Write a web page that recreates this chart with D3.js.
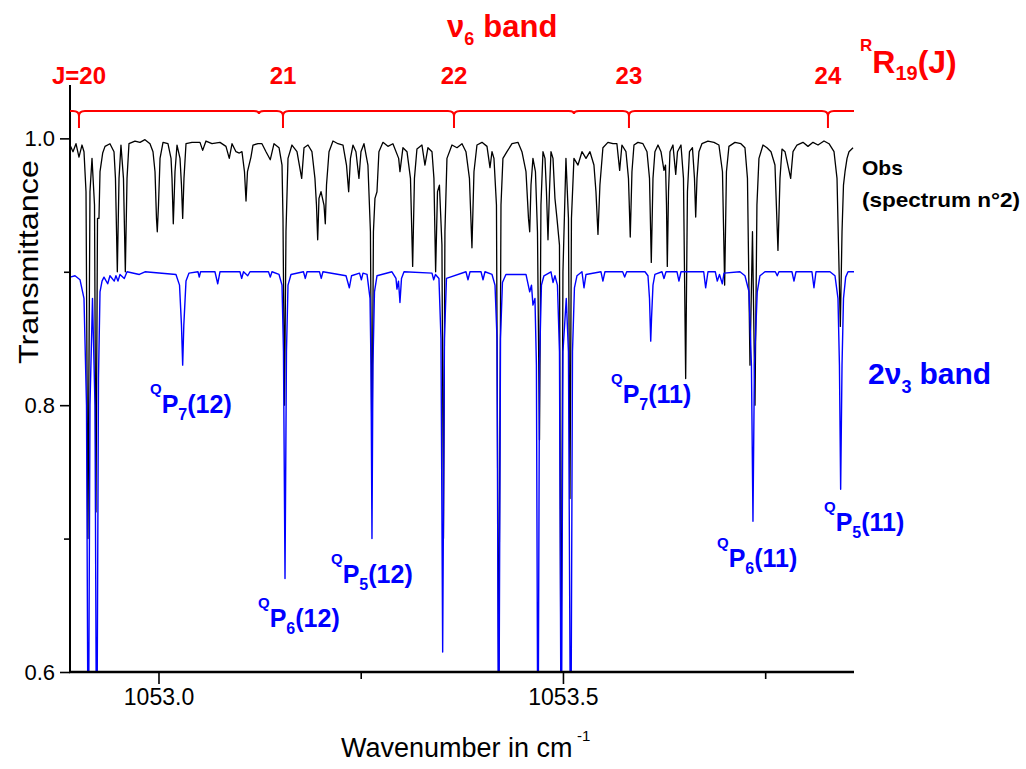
<!DOCTYPE html>
<html><head><meta charset="utf-8">
<script src="https://cdn.jsdelivr.net/npm/d3@7"></script>
<style>
body{margin:0;background:#fff}
svg{display:block}
text{font-family:"Liberation Sans",Arial,sans-serif}
</style>
</head><body>
<svg id="chart" width="1026" height="769"></svg>
<script>
// ---------- data ----------
// observed spectrum (black): [wavenumber cm-1, transmittance]
const obsSpectrum = [[1052.8906,0.995],[1052.8943,0.99],[1052.8980,0.996],[1052.9017,0.986],[1052.9054,0.995],[1052.9079,0.99],[1052.9104,0.96],[1052.9128,0.70],[1052.9153,0.96],[1052.9178,0.985],[1052.9209,0.95],[1052.9227,0.72],[1052.9246,0.94],[1052.9264,0.94],[1052.9277,0.975],[1052.9310,0.989],[1052.9339,0.994],[1052.9400,0.996],[1052.9450,0.99],[1052.9468,0.97],[1052.9491,0.90],[1052.9512,0.97],[1052.9536,0.995],[1052.9567,0.97],[1052.9590,0.90],[1052.9611,0.97],[1052.9635,0.996],[1052.9709,0.998],[1052.9771,0.997],[1052.9833,0.999],[1052.9895,0.996],[1052.9932,0.99],[1052.9957,0.975],[1052.9975,0.94],[1052.9985,0.93],[1053.0000,0.95],[1053.0019,0.985],[1053.0056,0.997],[1053.0117,0.996],[1053.0155,0.985],[1053.0167,0.97],[1053.0183,0.936],[1053.0204,0.975],[1053.0229,0.995],[1053.0266,0.985],[1053.0284,0.965],[1053.0299,0.94],[1053.0315,0.97],[1053.0340,0.996],[1053.0414,0.997],[1053.0513,0.997],[1053.0546,0.991],[1053.0587,0.998],[1053.0661,0.996],[1053.0760,0.997],[1053.0834,0.994],[1053.0875,0.985],[1053.0909,0.996],[1053.0958,0.99],[1053.0999,0.989],[1053.1032,0.99],[1053.1063,0.975],[1053.1082,0.953],[1053.1100,0.975],[1053.1143,0.986],[1053.1168,0.995],[1053.1230,0.996],[1053.1279,0.996],[1053.1329,0.99],[1053.1382,0.984],[1053.1428,0.996],[1053.1490,0.993],[1053.1527,0.98],[1053.1539,0.94],[1053.1558,0.80],[1053.1576,0.93],[1053.1601,0.985],[1053.1650,0.995],[1053.1712,0.99],[1053.1770,0.97],[1053.1799,0.993],[1053.1848,0.995],[1053.1897,0.99],[1053.1934,0.97],[1053.1953,0.95],[1053.1968,0.924],[1053.1984,0.955],[1053.2009,0.96],[1053.2046,0.95],[1053.2062,0.936],[1053.2077,0.965],[1053.2108,0.99],[1053.2157,0.998],[1053.2219,0.996],[1053.2281,0.995],[1053.2324,0.98],[1053.2351,0.96],[1053.2373,0.985],[1053.2404,0.995],[1053.2441,0.99],[1053.2478,0.97],[1053.2503,0.99],[1053.2540,0.996],[1053.2589,0.98],[1053.2620,0.93],[1053.2639,0.755],[1053.2657,0.93],[1053.2676,0.955],[1053.2701,0.96],[1053.2725,0.99],[1053.2775,0.997],[1053.2836,0.994],[1053.2898,0.996],[1053.2969,0.985],[1053.2985,0.975],[1053.3022,0.993],[1053.3072,0.99],[1053.3115,0.97],[1053.3142,0.904],[1053.3164,0.97],[1053.3195,0.992],[1053.3257,0.995],[1053.3294,0.98],[1053.3331,0.993],[1053.3381,0.99],[1053.3405,0.97],[1053.3426,0.90],[1053.3449,0.96],[1053.3473,0.965],[1053.3504,0.92],[1053.3523,0.70],[1053.3541,0.93],[1053.3566,0.985],[1053.3628,0.995],[1053.3690,0.993],[1053.3752,0.996],[1053.3801,0.99],[1053.3844,0.97],[1053.3875,0.918],[1053.3900,0.975],[1053.3937,0.995],[1053.3999,0.997],[1053.4061,0.994],[1053.4098,0.978],[1053.4123,0.99],[1053.4147,0.985],[1053.4178,0.95],[1053.4205,0.58],[1053.4234,0.95],[1053.4258,0.985],[1053.4308,0.99],[1053.4370,0.996],[1053.4444,0.997],[1053.4493,0.99],[1053.4543,0.975],[1053.4574,0.94],[1053.4589,0.93],[1053.4605,0.965],[1053.4629,0.985],[1053.4660,0.975],[1053.4685,0.93],[1053.4710,0.774],[1053.4728,0.95],[1053.4753,0.99],[1053.4778,0.985],[1053.4796,0.96],[1053.4815,0.924],[1053.4833,0.96],[1053.4852,0.99],[1053.4877,0.985],[1053.4901,0.955],[1053.4926,0.94],[1053.4957,0.92],[1053.4975,0.58],[1053.5000,0.90],[1053.5037,0.985],[1053.5068,0.94],[1053.5087,0.73],[1053.5105,0.94],[1053.5136,0.985],[1053.5186,0.98],[1053.5235,0.99],[1053.5285,0.985],[1053.5334,0.99],[1053.5383,0.98],[1053.5408,0.96],[1053.5433,0.928],[1053.5457,0.965],[1053.5494,0.993],[1053.5556,0.997],[1053.5618,0.996],[1053.5667,0.996],[1053.5701,0.976],[1053.5729,0.995],[1053.5779,0.99],[1053.5810,0.97],[1053.5832,0.926],[1053.5853,0.975],[1053.5878,0.995],[1053.5927,0.997],[1053.5989,0.996],[1053.6039,0.99],[1053.6070,0.97],[1053.6092,0.907],[1053.6113,0.97],[1053.6137,0.99],[1053.6175,0.995],[1053.6212,0.99],[1053.6249,0.976],[1053.6268,0.98],[1053.6280,0.95],[1053.6290,0.904],[1053.6305,0.96],[1053.6323,0.99],[1053.6360,0.995],[1053.6394,0.973],[1053.6416,0.99],[1053.6459,0.995],[1053.6490,0.97],[1053.6517,0.82],[1053.6539,0.96],[1053.6564,0.99],[1053.6601,0.993],[1053.6626,0.97],[1053.6641,0.941],[1053.6657,0.97],[1053.6681,0.99],[1053.6718,0.996],[1053.6792,0.998],[1053.6867,0.997],[1053.6928,0.995],[1053.6972,0.975],[1053.6999,0.89],[1053.7021,0.975],[1053.7052,0.994],[1053.7126,0.997],[1053.7200,0.996],[1053.7250,0.993],[1053.7281,0.97],[1053.7312,0.83],[1053.7343,0.93],[1053.7374,0.80],[1053.7398,0.95],[1053.7423,0.985],[1053.7473,0.995],[1053.7522,0.993],[1053.7572,0.99],[1053.7621,0.98],[1053.7658,0.916],[1053.7683,0.97],[1053.7708,0.992],[1053.7745,0.99],[1053.7815,0.97],[1053.7844,0.99],[1053.7893,0.995],[1053.7967,0.997],[1053.8029,0.994],[1053.8091,0.997],[1053.8153,0.995],[1053.8227,0.998],[1053.8289,0.996],[1053.8351,0.99],[1053.8388,0.97],[1053.8429,0.859],[1053.8450,0.93],[1053.8468,0.965],[1053.8487,0.975],[1053.8512,0.985],[1053.8536,0.99],[1053.8586,0.993]];

// calculated 2nu3 band (blue, shown with a -0.1 offset): [wavenumber cm-1, transmittance]
const calcSpectrum = [[1052.8906,0.896],[1052.8968,0.897],[1052.9030,0.894],[1052.9079,0.88],[1052.9110,0.80],[1052.9132,0.50],[1052.9153,0.80],[1052.9184,0.88],[1052.9215,0.80],[1052.9236,0.50],[1052.9258,0.82],[1052.9277,0.885],[1052.9302,0.893],[1052.9326,0.896],[1052.9372,0.891],[1052.9400,0.897],[1052.9453,0.893],[1052.9474,0.897],[1052.9499,0.893],[1052.9524,0.898],[1052.9577,0.895],[1052.9611,0.9],[1052.9763,0.898],[1052.9833,0.9],[1053.0216,0.898],[1053.0260,0.89],[1053.0284,0.86],[1053.0299,0.83],[1053.0313,0.86],[1053.0340,0.893],[1053.0377,0.899],[1053.0488,0.9],[1053.0504,0.896],[1053.0520,0.9],[1053.0698,0.9],[1053.0732,0.891],[1053.0760,0.9],[1053.1007,0.9],[1053.1028,0.895],[1053.1051,0.9],[1053.1103,0.897],[1053.1131,0.9],[1053.1360,0.9],[1053.1382,0.896],[1053.1403,0.9],[1053.1490,0.898],[1053.1527,0.89],[1053.1545,0.84],[1053.1564,0.67],[1053.1582,0.84],[1053.1601,0.89],[1053.1638,0.898],[1053.1792,0.9],[1053.1815,0.895],[1053.1836,0.9],[1053.1990,0.9],[1053.2012,0.895],[1053.2033,0.9],[1053.2318,0.897],[1053.2359,0.888],[1053.2386,0.897],[1053.2485,0.899],[1053.2508,0.894],[1053.2528,0.899],[1053.2578,0.898],[1053.2615,0.88],[1053.2627,0.83],[1053.2639,0.70],[1053.2651,0.83],[1053.2670,0.885],[1053.2701,0.897],[1053.2886,0.9],[1053.2936,0.895],[1053.2948,0.887],[1053.2967,0.893],[1053.2985,0.877],[1053.3004,0.895],[1053.3035,0.9],[1053.3381,0.899],[1053.3402,0.894],[1053.3424,0.898],[1053.3467,0.895],[1053.3492,0.85],[1053.3513,0.615],[1053.3535,0.85],[1053.3560,0.895],[1053.3801,0.9],[1053.3826,0.894],[1053.3851,0.9],[1053.3987,0.9],[1053.4012,0.894],[1053.4036,0.9],[1053.4123,0.898],[1053.4160,0.89],[1053.4185,0.85],[1053.4205,0.50],[1053.4228,0.85],[1053.4252,0.892],[1053.4295,0.898],[1053.4543,0.898],[1053.4589,0.885],[1053.4611,0.89],[1053.4629,0.875],[1053.4654,0.88],[1053.4672,0.83],[1053.4691,0.50],[1053.4710,0.83],[1053.4734,0.89],[1053.4765,0.897],[1053.4852,0.9],[1053.4877,0.892],[1053.4901,0.897],[1053.4932,0.89],[1053.4957,0.84],[1053.4979,0.50],[1053.5000,0.84],[1053.5041,0.88],[1053.5068,0.84],[1053.5096,0.50],[1053.5118,0.84],[1053.5142,0.888],[1053.5173,0.897],[1053.5235,0.9],[1053.5260,0.888],[1053.5285,0.898],[1053.5470,0.9],[1053.5494,0.893],[1053.5519,0.9],[1053.5738,0.9],[1053.5763,0.896],[1053.5788,0.9],[1053.6014,0.9],[1053.6051,0.897],[1053.6070,0.88],[1053.6085,0.848],[1053.6095,0.865],[1053.6113,0.89],[1053.6137,0.898],[1053.6224,0.9],[1053.6249,0.895],[1053.6274,0.9],[1053.6410,0.9],[1053.6434,0.893],[1053.6459,0.9],[1053.6740,0.9],[1053.6764,0.888],[1053.6793,0.9],[1053.6883,0.9],[1053.6908,0.893],[1053.6935,0.898],[1053.6970,0.891],[1053.6991,0.899],[1053.7188,0.9],[1053.7250,0.897],[1053.7300,0.885],[1053.7330,0.83],[1053.7349,0.713],[1053.7367,0.83],[1053.7402,0.885],[1053.7435,0.897],[1053.7497,0.9],[1053.7625,0.9],[1053.7649,0.897],[1053.7670,0.9],[1053.7831,0.9],[1053.7856,0.893],[1053.7881,0.9],[1053.8078,0.9],[1053.8103,0.888],[1053.8128,0.9],[1053.8301,0.9],[1053.8363,0.897],[1053.8400,0.88],[1053.8418,0.83],[1053.8433,0.737],[1053.8450,0.83],[1053.8468,0.88],[1053.8495,0.896],[1053.8524,0.9],[1053.8598,0.9]];

// nu6 band RR19(J) line positions
const rrJ = [20, 21, 22, 23, 24];
const rrPosition = [1052.9017, 1053.1539, 1053.3653, 1053.5816, 1053.8276];
const rrMinorPosition = [1053.1242, 1053.5136];

// 2nu3 assignments: K value, J value
const calcLabelK = ["7", "6", "5", "7", "6", "5"];
const calcLabelJ = ["12", "12", "12", "11", "11", "11"];

const xMajorTicks = [1053.0, 1053.5];
const xMinorTicks = [1053.25, 1053.75];
const yMajorTicks = [0.6, 0.8, 1.0];
const yMinorTicks = [0.7, 0.9];

// ---------- layout ----------
const svg = d3.select("#chart");
const L = 70, R = 854, B = 672, T = 85;
const x = d3.scaleLinear().domain([1052.8906, 1053.8598]).range([L, R]);
const y = d3.scaleLinear().domain([0.6, 1.04]).range([B, T]);
const RED = "#ff0000", BLUE = "#0000ff";

svg.append("defs").append("clipPath").attr("id", "plot")
  .append("rect").attr("x", L).attr("y", 60).attr("width", R - L + 2).attr("height", B - 60);

const line = d3.line().x(d => x(d[0])).y(d => y(d[1]));
const plot = svg.append("g").attr("clip-path", "url(#plot)");
plot.append("path").datum(obsSpectrum).attr("d", line)
  .attr("fill", "none").attr("stroke", "#000").attr("stroke-width", 1.3).attr("stroke-linejoin", "round");
plot.append("path").datum(calcSpectrum).attr("d", line)
  .attr("fill", "none").attr("stroke", BLUE).attr("stroke-width", 1.4).attr("stroke-linejoin", "round");

// ---------- axes ----------
const fmt = d3.format(".1f");
const gx = svg.append("g").attr("transform", `translate(0,${B})`);
gx.call(d3.axisBottom(x).tickValues(xMajorTicks).tickSize(12).tickPadding(5).tickFormat(fmt));
gx.append("g").call(d3.axisBottom(x).tickValues(xMinorTicks).tickSize(7).tickFormat(""));
gx.selectAll(".domain").remove();
gx.selectAll("line").attr("stroke", "#000").attr("stroke-width", 1.6);
gx.selectAll("text").attr("font-size", 23).attr("fill", "#000").attr("font-family", '"Liberation Sans",Arial,sans-serif');
svg.append("line").attr("x1", L - 1).attr("x2", R).attr("y1", B).attr("y2", B)
  .attr("stroke", "#000").attr("stroke-width", 2.4);

const gy = svg.append("g").attr("transform", `translate(${L},0)`);
gy.call(d3.axisLeft(y).tickValues(yMajorTicks).tickSize(10).tickPadding(5).tickFormat(fmt));
gy.append("g").call(d3.axisLeft(y).tickValues(yMinorTicks).tickSize(6).tickFormat(""));
gy.selectAll(".domain").remove();
gy.selectAll("line").attr("stroke", "#000").attr("stroke-width", 1.6);
gy.selectAll("text").attr("font-size", 22).attr("fill", "#000").attr("font-family", '"Liberation Sans",Arial,sans-serif');
svg.append("line").attr("x1", L).attr("x2", L).attr("y1", T).attr("y2", B)
  .attr("stroke", "#000").attr("stroke-width", 2);

// axis titles
svg.append("text").attr("x", 341).attr("y", 757)
  .attr("font-size", 27).attr("fill", "#000").text("Wavenumber in cm");
svg.append("text").attr("x", 577).attr("y", 741)
  .attr("font-size", 15).attr("fill", "#000").text("-1");
svg.append("text").attr("transform", "translate(38,262) rotate(-90)").attr("text-anchor", "middle")
  .attr("font-size", 28).attr("fill", "#000")
  .attr("textLength", 204).attr("lengthAdjust", "spacingAndGlyphs").text("Transmittance");

// ---------- nu6 RR19(J) bracket ----------
const by = 111, tipY = 128;
let dpath = `M${L},${by}`;
const marks = rrPosition.map(p => ({p, big: true})).concat(rrMinorPosition.map(p => ({p, big: false})))
  .sort((a, b) => a.p - b.p);
marks.forEach(m => {
  const cx = x(m.p);
  if (m.big) {
    dpath += ` L${cx - 6},${by} Q${cx},${by} ${cx},${by + 5} L${cx},${tipY} M${cx},${by + 5} Q${cx},${by} ${cx + 6},${by}`;
  } else {
    dpath += ` L${cx - 5},${by} Q${cx},${by} ${cx},${by + 3} Q${cx},${by} ${cx + 5},${by}`;
  }
});
dpath += ` L${R},${by}`;
svg.append("path").attr("d", dpath).attr("fill", "none").attr("stroke", RED).attr("stroke-width", 2);

svg.selectAll("text.jlab").data(rrJ).join("text").attr("class", "jlab")
  .attr("x", (d, i) => x(rrPosition[i])).attr("y", 84).attr("text-anchor", "middle")
  .attr("font-size", 24).attr("font-weight", "bold").attr("fill", RED)
  .text((d, i) => i === 0 ? "J=" + d : d);

// nu6 band title
const t6 = svg.append("text").attr("x", 447).attr("y", 37).attr("font-size", 31).attr("font-weight", "bold").attr("fill", RED);
t6.append("tspan").text("\u03BD");
t6.append("tspan").attr("font-size", 18).attr("dy", 8).text("6");
t6.append("tspan").attr("dy", -8).attr("dx", 9).text("band");

// RR19(J)
const tr = svg.append("text").attr("x", 860).attr("y", 73).attr("font-weight", "bold").attr("fill", RED);
tr.append("tspan").attr("font-size", 17).attr("dy", -22).text("R");
tr.append("tspan").attr("font-size", 32).attr("dy", 22).text("R");
tr.append("tspan").attr("font-size", 20).attr("dy", 7).text("19");
tr.append("tspan").attr("font-size", 32).attr("dy", -7).text("(J)");

// Obs label
svg.append("text").attr("x", 862).attr("y", 175).attr("font-size", 21).attr("font-weight", "bold").attr("fill", "#000").text("Obs");
svg.append("text").attr("x", 862).attr("y", 207).attr("font-size", 21).attr("font-weight", "bold").attr("fill", "#000")
  .attr("textLength", 158).attr("lengthAdjust", "spacingAndGlyphs").text("(spectrum n\u00B02)");

// 2nu3 band label
const t3 = svg.append("text").attr("x", 868).attr("y", 384).attr("font-size", 30).attr("font-weight", "bold").attr("fill", BLUE);
t3.append("tspan").text("2\u03BD");
t3.append("tspan").attr("font-size", 18).attr("dy", 9).text("3");
t3.append("tspan").attr("dy", -9).attr("dx", 8).text("band");

// QP_K(J) labels
const labelAt = [[150, 413], [258, 627], [331, 583], [611, 403], [717, 567], [824, 531]];
calcLabelK.forEach((k, i) => {
  const t = svg.append("text").attr("x", labelAt[i][0]).attr("y", labelAt[i][1])
    .attr("font-weight", "bold").attr("fill", BLUE);
  t.append("tspan").attr("font-size", 15).attr("dy", -19).text("Q");
  t.append("tspan").attr("font-size", 25).attr("dy", 19).text("P");
  t.append("tspan").attr("font-size", 16).attr("dy", 7).text(k);
  t.append("tspan").attr("font-size", 25).attr("dy", -7).text("(" + calcLabelJ[i] + ")");
});
</script>
</body></html>
